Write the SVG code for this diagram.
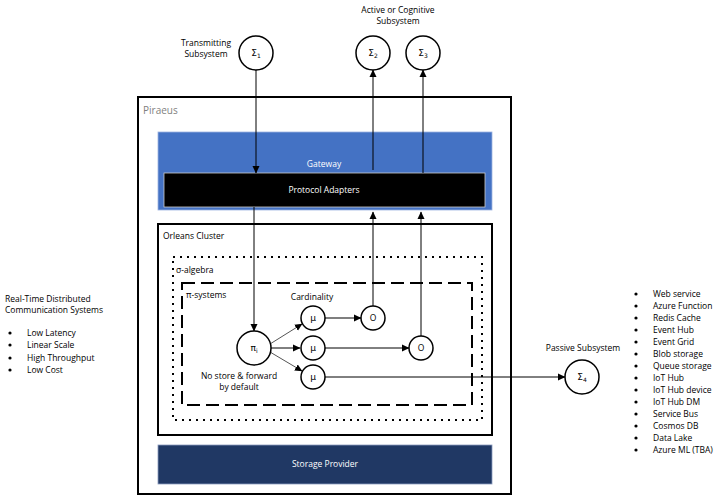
<svg xmlns="http://www.w3.org/2000/svg" width="720" height="496" viewBox="0 0 720 496">
<defs>
<marker id="ah" markerWidth="8" markerHeight="8" refX="7" refY="4" orient="auto" markerUnits="userSpaceOnUse">
<path d="M0,0.5 L7.5,4 L0,7.5 Z" fill="#000"/>
</marker>
</defs>
<style>
text{font-family:"Open Sans","Liberation Sans",sans-serif;font-size:8.5px;fill:#000}
.c{text-anchor:middle}
.w{fill:#fff}
.node{fill:#fff;stroke:#000;stroke-width:1.5}
.ln{stroke:#000;stroke-width:1;fill:none}
.lg{stroke:#555;stroke-width:1;fill:none}
.sym{font-family:"DejaVu Sans","Liberation Sans",sans-serif;font-size:9px}
.sub{font-size:6px}
</style>
<rect width="720" height="496" fill="#fff"/>

<g id="piraeus">
<rect x="138" y="97" width="373" height="397" fill="none" stroke="#000" stroke-width="2"/>
<text x="143" y="114" style="font-size:10px;fill:#7f7f7f">Piraeus</text>
</g>

<g id="gateway">
<rect x="158" y="132" width="334" height="78" fill="#4472C4" stroke="#9db3e0" stroke-width="0.8"/>
<text class="c w" x="324" y="167">Gateway</text>
</g>

<g id="protocol-adapters">
<rect x="164" y="173" width="321" height="34" fill="#000" stroke="#ccc" stroke-width="0.8"/>
<text class="c w" x="324" y="193">Protocol Adapters</text>
</g>

<g id="orleans-cluster">
<rect x="158" y="224" width="334" height="211" fill="none" stroke="#000" stroke-width="2"/>
<text x="163" y="239">Orleans Cluster</text>
</g>

<g id="sigma-algebra">
<rect x="173" y="257" width="309" height="163" fill="none" stroke="#000" stroke-width="2" stroke-dasharray="2 5"/>
<text x="176" y="273">σ-algebra</text>
</g>

<g id="pi-systems">
<rect x="182" y="283" width="290" height="122" fill="none" stroke="#000" stroke-width="2" stroke-dasharray="13 6"/>
<text x="186" y="298">π-systems</text>
</g>

<g id="storage-provider">
<rect x="158" y="445" width="334" height="39" fill="#203864" stroke="#8a9bbd" stroke-width="0.8"/>
<text class="c w" x="325" y="467">Storage Provider</text>
</g>

<g id="connectors">
<line class="ln" x1="256" y1="70" x2="256" y2="173" marker-end="url(#ah)"/>
<line class="ln" x1="373" y1="170" x2="373" y2="70" marker-end="url(#ah)"/>
<line class="ln" x1="423" y1="173" x2="423" y2="70" marker-end="url(#ah)"/>
<line class="ln" x1="254" y1="207" x2="254" y2="331" marker-end="url(#ah)"/>
<line class="ln" x1="373" y1="306" x2="373" y2="212" marker-end="url(#ah)"/>
<line class="ln" x1="421" y1="336" x2="421" y2="212" marker-end="url(#ah)"/>
<line class="lg" x1="270" y1="344" x2="302" y2="324" marker-end="url(#ah)"/>
<line class="ln" x1="271" y1="348" x2="300" y2="348" marker-end="url(#ah)"/>
<line class="lg" x1="270" y1="352" x2="302" y2="371" marker-end="url(#ah)"/>
<line class="lg" x1="325" y1="318" x2="361" y2="318" marker-end="url(#ah)" style="stroke-width:1.5"/>
<line class="ln" x1="325" y1="348" x2="409" y2="348" marker-end="url(#ah)"/>
<line class="ln" x1="325" y1="377" x2="565" y2="377" marker-end="url(#ah)"/>
</g>

<g id="sigma1">
<circle class="node" cx="256" cy="53" r="17"/>
<text class="c sym" x="256" y="56">Σ<tspan class="sub" dy="2">1</tspan></text>
<text class="c" x="206" y="46">Transmitting</text>
<text class="c" x="206" y="57">Subsystem</text>
</g>

<g id="sigma2">
<circle class="node" cx="373" cy="53" r="17"/>
<text class="c sym" x="373" y="56">Σ<tspan class="sub" dy="2">2</tspan></text>
<text class="c" x="398" y="13">Active or Cognitive</text>
<text class="c" x="398" y="24">Subsystem</text>
</g>

<g id="sigma3">
<circle class="node" cx="423" cy="53" r="17"/>
<text class="c sym" x="423" y="56">Σ<tspan class="sub" dy="2">3</tspan></text>
</g>

<g id="sigma4">
<circle class="node" cx="582" cy="377" r="17"/>
<text class="c sym" x="582" y="380">Σ<tspan class="sub" dy="2">4</tspan></text>
<text class="c" x="583" y="351">Passive Subsystem</text>
</g>

<g id="pi">
<circle class="node" cx="254" cy="348" r="17"/>
<text class="c sym" x="254" y="351">π<tspan class="sub" dy="2">i</tspan></text>
<text class="c" x="239" y="379">No store &amp; forward</text>
<text class="c" x="239" y="390">by default</text>
</g>

<g id="mu1">
<circle class="node" cx="313" cy="318" r="12"/>
<text class="c sym" x="313" y="321">μ</text>
<text class="c" x="312" y="300">Cardinality</text>
</g>
<g id="mu2">
<circle class="node" cx="313" cy="348" r="12"/>
<text class="c sym" x="313" y="351">μ</text>
</g>
<g id="mu3">
<circle class="node" cx="313" cy="377" r="12"/>
<text class="c sym" x="313" y="380">μ</text>
</g>
<g id="o1">
<circle class="node" cx="373" cy="318" r="12"/>
<text class="c" x="373" y="321">O</text>
</g>
<g id="o2">
<circle class="node" cx="421" cy="348" r="12"/>
<text class="c" x="421" y="351">O</text>
</g>

<g id="rtdcs">
<text x="5" y="302">Real-Time Distributed</text>
<text x="5" y="313">Communication Systems</text>
<g>
<circle cx="10" cy="333" r="1.6"/><text x="27" y="336">Low Latency</text>
<circle cx="10" cy="345" r="1.6"/><text x="27" y="348">Linear Scale</text>
<circle cx="10" cy="358" r="1.6"/><text x="27" y="361">High Throughput</text>
<circle cx="10" cy="370" r="1.6"/><text x="27" y="373">Low Cost</text>
</g>
</g>

<g id="passive-list">
<circle cx="636" cy="294" r="1.6"/><text x="653" y="297">Web service</text>
<circle cx="636" cy="306" r="1.6"/><text x="653" y="309">Azure Function</text>
<circle cx="636" cy="318" r="1.6"/><text x="653" y="321">Redis Cache</text>
<circle cx="636" cy="330" r="1.6"/><text x="653" y="333">Event Hub</text>
<circle cx="636" cy="342" r="1.6"/><text x="653" y="345">Event Grid</text>
<circle cx="636" cy="354" r="1.6"/><text x="653" y="357">Blob storage</text>
<circle cx="636" cy="366" r="1.6"/><text x="653" y="369">Queue storage</text>
<circle cx="636" cy="378" r="1.6"/><text x="653" y="381">IoT Hub</text>
<circle cx="636" cy="390" r="1.6"/><text x="653" y="393">IoT Hub device</text>
<circle cx="636" cy="402" r="1.6"/><text x="653" y="405">IoT Hub DM</text>
<circle cx="636" cy="414" r="1.6"/><text x="653" y="417">Service Bus</text>
<circle cx="636" cy="426" r="1.6"/><text x="653" y="429">Cosmos DB</text>
<circle cx="636" cy="438" r="1.6"/><text x="653" y="441">Data Lake</text>
<circle cx="636" cy="450" r="1.6"/><text x="653" y="453">Azure ML (TBA)</text>
</g>
</svg>
